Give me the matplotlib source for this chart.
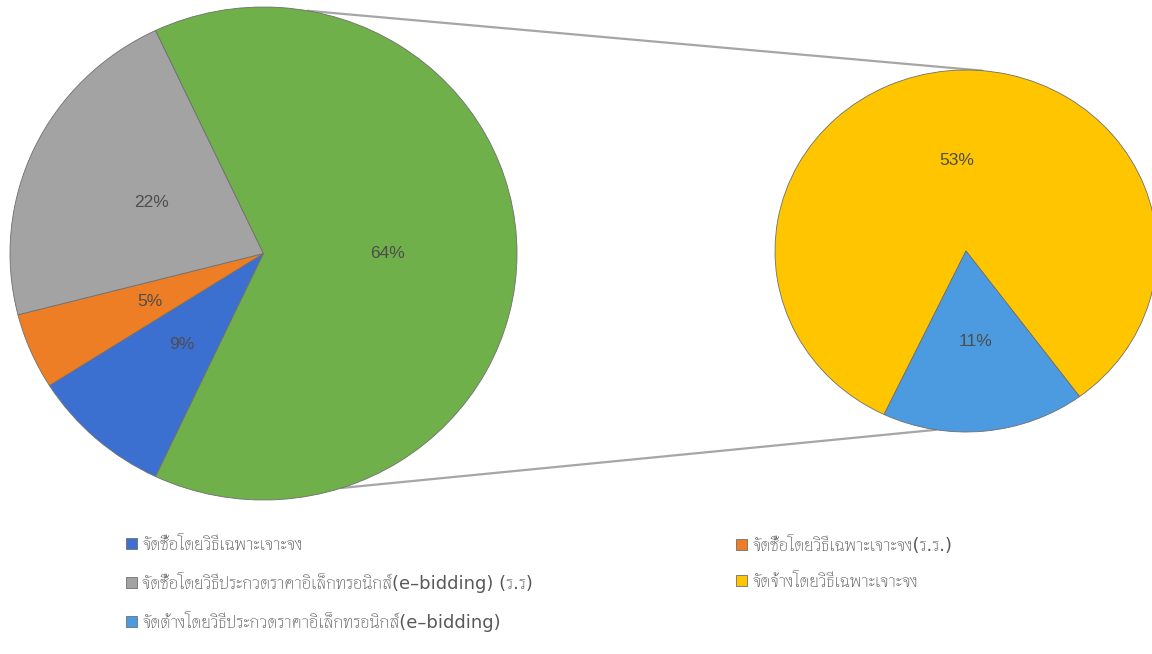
import numpy as np
import matplotlib
matplotlib.use("Agg")
import matplotlib.pyplot as plt

# main pie: the last slice ("other") is split in the small pie
main_labels = ["จัดซื้อโดยวิธีเฉพาะเจาะจง",
               "จัดซื้อโดยวิธีเฉพาะเจาะจง(ร.ร.)",
               "จัดซื้อโดยวิธีประกวดราคาอิเล็กทรอนิกส์(e–bidding) (ร.ร)"]
main_values = [9, 5, 22]
main_colors = ["#3B6FD0", "#EE7E26", "#A3A3A3"]
other_color = "#70B04A"

sub_labels = ["จัดจ้างโดยวิธีเฉพาะเจาะจง",
              "จัดต้างโดยวิธีประกวดราคาอิเล็กทรอนิกส์(e–bidding)"]
sub_values = [53, 11]
sub_colors = ["#FFC600", "#4C9BE0"]

W, H = 1152, 654
fig = plt.figure(figsize=(W / 100, H / 100), dpi=100)

# background axes in pixel units for the connector lines
bg = fig.add_axes([0, 0, 1, 1])
bg.set_xlim(0, W)
bg.set_ylim(H, 0)
bg.axis("off")

# pie boxes (pixels): the source picture is slightly stretched sideways
big = dict(cx=263.5, cy=253.5, rx=253.5, ry=246.5)
small = dict(cx=966, cy=251, rx=191, ry=181)


def pie_axes(p):
    return fig.add_axes([(p["cx"] - p["rx"]) / W, 1 - (p["cy"] + p["ry"]) / H,
                         2 * p["rx"] / W, 2 * p["ry"] / H])


def edge_pt(p, ang):
    a = np.deg2rad(ang)
    return p["cx"] + p["rx"] * np.cos(a), p["cy"] - p["ry"] * np.sin(a)


# connectors between the "other" slice and the second pie
for a1, a2 in [(80, 85), (-72, -99)]:
    x1, y1 = edge_pt(big, a1)
    x2, y2 = edge_pt(small, a2)
    bg.plot([x1, x2], [y1, y2], color="#A6A6A6", lw=1.6, solid_capstyle="round")

txt = dict(color="#4D4D4D", fontsize=12.5, family="Liberation Sans")
wp = dict(edgecolor="#6F6F6F", linewidth=0.6)

vals1 = main_values + [sum(sub_values)]
tot1 = sum(vals1)
ax1 = pie_axes(big)
# the split-off slices are centred on the left side (180 deg)
w1, _, _ = ax1.pie(vals1, colors=main_colors + [other_color],
                   startangle=180 + 1.8 * sum(main_values),
                   counterclock=False, radius=1, wedgeprops=wp,
                   autopct=lambda p: f"{p * tot1 / 100:.0f}%", pctdistance=0.49,
                   textprops=txt)
ax1.set_aspect("auto")
ax1.set_xlim(-1, 1)
ax1.set_ylim(-1, 1)

tot2 = sum(sub_values)
ax2 = pie_axes(small)
w2, _, _ = ax2.pie(sub_values, colors=sub_colors, startangle=244.6,
                   counterclock=False, radius=1, wedgeprops=wp,
                   autopct=lambda p: f"{p * tot2 / 100:.0f}%", pctdistance=0.5,
                   textprops=txt)
ax2.set_aspect("auto")
ax2.set_xlim(-1, 1)
ax2.set_ylim(-1, 1)

# legend: two columns, filled row by row
handles = list(w1[:3]) + list(w2)
labels = main_labels + sub_labels
leg_kw = dict(frameon=False, loc="upper left", handlelength=0.6, handleheight=0.6,
              handletextpad=0.3, labelspacing=1.0, borderpad=0, borderaxespad=0,
              labelcolor="#595959",
              prop=dict(family=["DejaVu Sans", "Thasadith"], size=13))
fig.legend([handles[0], handles[2], handles[4]], [labels[0], labels[2], labels[4]],
           bbox_to_anchor=(126 / W, 1 - 536 / H), **leg_kw)
fig.legend([handles[1], handles[3]], [labels[1], labels[3]],
           bbox_to_anchor=(736 / W, 1 - 536 / H), **leg_kw)

fig.savefig("out.png", dpi=100)
